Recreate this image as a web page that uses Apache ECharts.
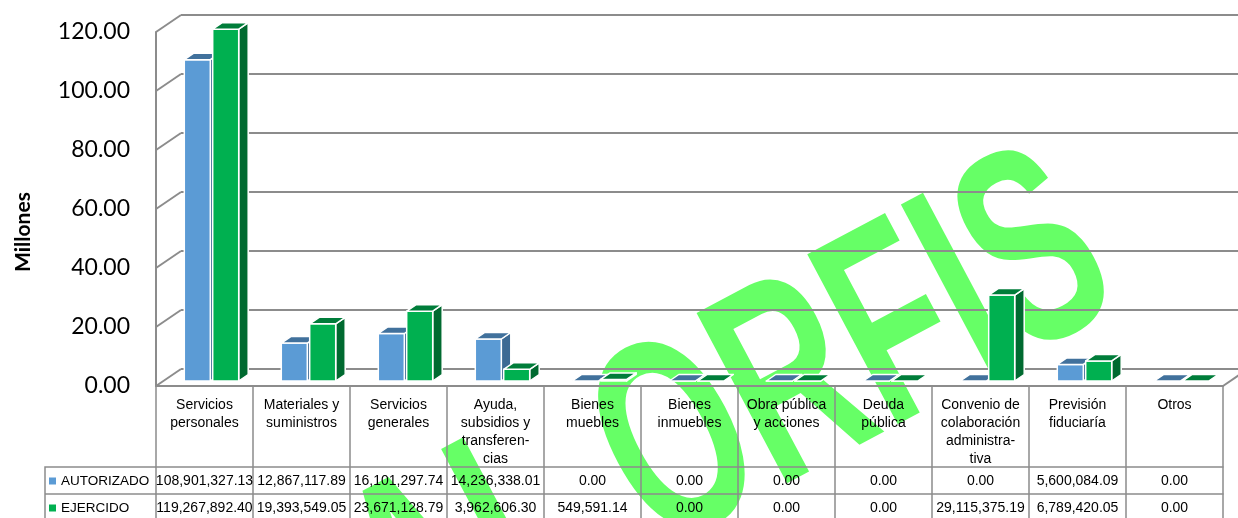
<!DOCTYPE html>
<html>
<head>
<meta charset="utf-8">
<script src="https://cdn.jsdelivr.net/npm/echarts@6/dist/echarts.min.js"></script>
<style>
  html, body { margin: 0; padding: 0; background: #fff; }
  #chart { width: 1238px; height: 518px; }
</style>
</head>
<body>
<div id="chart"></div>
<script>
// datos del gráfico
const categories = [
  'Servicios\npersonales', 'Materiales y\nsuministros', 'Servicios\ngenerales',
  'Ayuda,\nsubsidios y\ntransferen-\ncias', 'Bienes\nmuebles', 'Bienes\ninmuebles',
  'Obra pública\ny acciones', 'Deuda\npública', 'Convenio de\ncolaboración\nadministra-\ntiva',
  'Previsión\nfiduciaría', 'Otros'
]
const autorizado = [108901327.13, 12867117.89, 16101297.74, 14236338.01, 0, 0, 0, 0, 0, 5600084.09, 0]
const ejercido = [119267892.40, 19393549.05, 23671128.79, 3962606.30, 549591.14, 0, 0, 0, 29115375.19, 6789420.05, 0]
const yTicks = [0, 20, 40, 60, 80, 100, 120]

const TABLA = '"Liberation Sans", Arial, sans-serif'
const GRIS = '#8c8c8c'

// geometría del efecto 3D
const WX = 25, WY = -17      // profundidad de la pared
const DX = 7, DY = -5        // desplazamiento de la cara frontal de las barras
const OX = 9.5, OY = -6.5    // profundidad de cada barra
const BW = 26, GAP = 1.2

const fmt = v => v.toLocaleString('en-US', { minimumFractionDigits: 2, maximumFractionDigits: 2 })

const barItem = (side, cFront, cTop, cSide) => (params, api) => {
  const i = api.value(0)
  const base = api.coord([i, 0])
  const top = api.coord([i, api.value(1)])
  const x0 = side < 0 ? base[0] + DX - GAP - BW : base[0] + DX + GAP
  const yb = base[1] + DY, yt = top[1] + DY
  const st = { stroke: '#fff', lineWidth: 1.5, lineJoin: 'round' }
  return {
    type: 'group',
    children: [
      { type: 'polygon', shape: { points: [[x0 + BW, yt], [x0 + BW + OX, yt + OY], [x0 + BW + OX, yb + OY], [x0 + BW, yb]] }, style: { ...st, fill: cSide } },
      { type: 'rect', shape: { x: x0, y: yt, width: BW, height: yb - yt }, style: { ...st, fill: cFront } },
      { type: 'polygon', shape: { points: [[x0, yt], [x0 + BW, yt], [x0 + BW + OX, yt + OY], [x0 + OX, yt + OY]] }, style: { ...st, fill: cTop } }
    ]
  }
}

// pared del fondo y lateral
const wallItem = (params, api) => {
  const v = api.value(1)
  const cs = params.coordSys
  const y = api.coord([0, v])[1]
  const x0 = cs.x, x1 = cs.x + cs.width
  const ls = { stroke: GRIS, lineWidth: 2 }
  const children = [
    { type: 'line', shape: { x1: x0, y1: y, x2: x0 + WX, y2: y + WY }, style: ls },
    { type: 'line', shape: { x1: x0 + WX, y1: y + WY, x2: x1 + WX + 20, y2: y + WY }, style: ls }
  ]
  if (v === 0) children.push({ type: 'line', shape: { x1: x1, y1: y, x2: x1 + WX, y2: y + WY }, style: ls })
  return { type: 'group', children }
}

const chart = echarts.init(document.getElementById('chart'))

// filas de la tabla como ejes extra
const valueAxis = (vals, offset) => ({
  type: 'category',
  data: categories,
  position: 'bottom',
  offset: offset,
  axisLine: { show: true, lineStyle: { color: GRIS, width: 1.5 } },
  axisTick: { show: false },
  axisLabel: {
    interval: 0, margin: 6, fontSize: 14, lineHeight: 16, color: '#000', fontFamily: TABLA,
    formatter: (v, idx) => fmt(vals[idx])
  }
})

chart.setOption({
  backgroundColor: '#fff',
  animation: false,
  grid: { left: 156, right: 15, top: 32, bottom: 132 },
  legend: {
    data: ['AUTORIZADO', 'EJERCIDO'],
    orient: 'vertical', left: 49, top: 473, padding: 0,
    icon: 'rect', itemWidth: 7, itemHeight: 7, itemGap: 11,
    textStyle: { fontSize: 13.5, lineHeight: 16, color: '#000', fontFamily: TABLA },
    selectedMode: false
  },
  xAxis: [
    {
      type: 'category',
      data: categories,
      axisLine: { show: true, lineStyle: { color: GRIS, width: 2 } },
      axisTick: { show: true, interval: 0, length: 132, lineStyle: { color: GRIS, width: 1.5 } },
      axisLabel: { interval: 0, margin: 10, fontSize: 14, lineHeight: 18, color: '#000', fontFamily: TABLA }
    },
    valueAxis(autorizado, 81),
    valueAxis(ejercido, 108)
  ],
  yAxis: {
    type: 'value',
    min: yTicks[0],
    max: yTicks[yTicks.length - 1],
    interval: yTicks[1] - yTicks[0],
    axisLine: { show: true, lineStyle: { color: GRIS, width: 2 } },
    axisTick: { show: false },
    splitLine: { show: false },
    axisLabel: { margin: 26, fontSize: 23, color: '#000', fontFamily: 'Lato, "Noto Sans", sans-serif', formatter: v => v.toFixed(2) }
  },
  graphic: [
    {
      type: 'text', x: 732, y: 425, rotation: 28 * Math.PI / 180, scaleX: 0.62, z: -10, silent: true,
      style: { text: 'AL ORFIS', font: 'bold 280px "Liberation Sans", "DejaVu Sans", sans-serif', fill: '#66ff66', align: 'center', verticalAlign: 'middle' }
    },
    {
      type: 'text', x: 23, y: 232, rotation: Math.PI / 2,
      style: { text: 'Millones', font: 'bold 21px Lato, "Noto Sans", sans-serif', fill: '#000', align: 'center', verticalAlign: 'middle' }
    },
    {
      type: 'polyline', silent: true,
      shape: { points: [[156, 467], [45, 467], [45, 520]] },
      style: { stroke: GRIS, lineWidth: 1.5, fill: null }
    },
    {
      type: 'line', silent: true,
      shape: { x1: 45, y1: 494, x2: 156, y2: 494 },
      style: { stroke: GRIS, lineWidth: 1.5 }
    }
  ],
  series: [
    {
      type: 'custom', name: 'pared', z: 1, clip: false, silent: true,
      renderItem: wallItem,
      data: yTicks.map(v => [0, v])
    },
    {
      type: 'custom', name: 'AUTORIZADO', z: 3, clip: false,
      itemStyle: { color: '#5b9bd5' },
      renderItem: barItem(-1, '#5b9bd5', '#41719c', '#3d6a94'),
      data: autorizado.map((v, i) => [i, v / 1e6])
    },
    {
      type: 'custom', name: 'EJERCIDO', z: 3, clip: false,
      itemStyle: { color: '#00b050' },
      renderItem: barItem(1, '#00b050', '#007d3a', '#006a30'),
      data: ejercido.map((v, i) => [i, v / 1e6])
    }
  ]
})
</script>
</body>
</html>
